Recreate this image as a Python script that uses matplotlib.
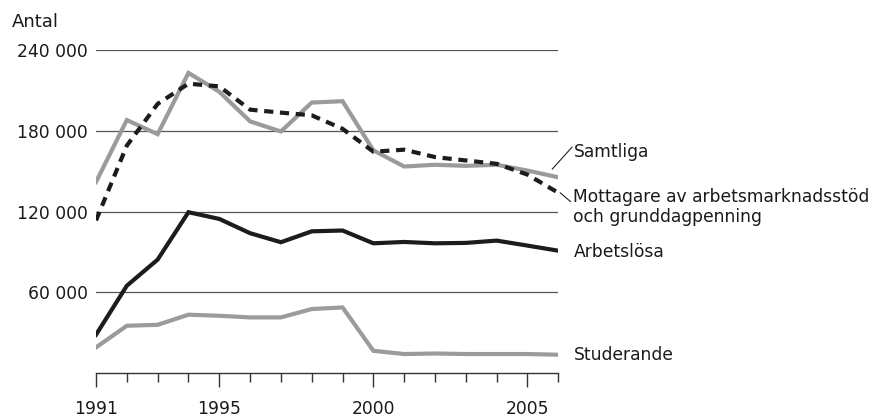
import matplotlib
matplotlib.use("Agg")
import matplotlib.pyplot as plt
from matplotlib.ticker import FixedLocator

plt.rcParams['font.family'] = ['DejaVu Sans']

years = list(range(1991, 2007))
samtliga = [142000, 188000, 177500, 223000, 209000, 187000, 179500, 201000,
            202000, 165500, 153500, 154800, 154000, 154800, 150500, 145500]
mottagare = [113500, 169000, 200000, 215000, 213000, 195700, 193500, 191500,
             181500, 164500, 166000, 160500, 158000, 155500, 147500, 134000]
arbetslosa = [28600, 65000, 84400, 119600, 114600, 104000, 97300, 105400,
              106000, 96500, 97500, 96500, 96800, 98500, 94800, 91000]
studerande = [19200, 35300, 36000, 43500, 42700, 41500, 41500, 47700,
              48900, 16700, 14300, 14700, 14300, 14300, 14300, 13800]

ytick_vals = [60000, 120000, 180000, 240000]
ytick_labels = ["60 000", "120 000", "180 000", "240 000"]
xtick_major = [1991, 1995, 2000, 2005]
xtick_labels = ["1991", "1995", "2000", "2005"]

GRAY = '#9b9b9b'
BLACK = '#1c1c1c'
TXT = '#1a1a1a'

fig = plt.figure(figsize=(8.89, 4.2), dpi=100)
ax = fig.add_axes([96/889, 1-373.3/420, (558.3-96)/889, (373.3-50)/420])

ax.set_xlim(1991, 2006)
ax.set_ylim(0, 240000)

for v in ytick_vals:
    ax.axhline(v, color='#555555', lw=0.9, zorder=1)

ax.plot(years, studerande, color=GRAY, lw=3.0, solid_joinstyle='miter', zorder=3)
ax.plot(years, arbetslosa, color=BLACK, lw=3.0, solid_joinstyle='miter', zorder=3)
ax.plot(years, samtliga, color=GRAY, lw=3.0, solid_joinstyle='miter', zorder=3)
ax.plot(years, mottagare, color=BLACK, lw=3.0, dashes=(2.2, 1.6),
        dash_capstyle='butt', zorder=4)

for s in ['top', 'right', 'left']:
    ax.spines[s].set_visible(False)
ax.spines['bottom'].set_color('#333333')
ax.spines['bottom'].set_linewidth(1.0)

fs = 12.3
ax.yaxis.set_major_locator(FixedLocator(ytick_vals))
ax.set_yticklabels(ytick_labels)
ax.tick_params(axis='y', length=0, pad=6, labelsize=fs, labelcolor=TXT)

ax.xaxis.set_major_locator(FixedLocator(xtick_major))
ax.set_xticklabels(xtick_labels)
ax.xaxis.set_minor_locator(FixedLocator(years))
ax.tick_params(axis='x', which='major', length=10, width=1.0, color='#333333',
               direction='out', pad=9, labelsize=fs, labelcolor=TXT)
ax.tick_params(axis='x', which='minor', length=6.5, width=1.0, color='#333333',
               direction='out')

fig.text(12/889, 1-26.7/420, "Antal", fontsize=13, color=TXT, ha='left', va='baseline')

# labels at line ends
ax.text(2006.49, 160800, "Samtliga", fontsize=fs, color=TXT, ha='left', va='baseline', clip_on=False)
ax.annotate('', xy=(2005.8, 151500), xytext=(2006.45, 168000), annotation_clip=False,
            arrowprops=dict(arrowstyle='-', lw=0.8, color='#222222', shrinkA=0, shrinkB=0))
ax.text(2006.49, 127400, "Mottagare av arbetsmarknadsstöd", fontsize=fs, color=TXT,
        ha='left', va='baseline', clip_on=False)
ax.text(2006.49, 112550, "och grunddagpenning", fontsize=fs, color=TXT,
        ha='left', va='baseline', clip_on=False)
ax.annotate('', xy=(2006.06, 134000), xytext=(2006.40, 127400), annotation_clip=False,
            arrowprops=dict(arrowstyle='-', lw=0.8, color='#222222', shrinkA=0, shrinkB=0))
ax.text(2006.49, 86560, "Arbetslösa", fontsize=fs, color=TXT, ha='left', va='baseline', clip_on=False)
ax.text(2006.49, 9870, "Studerande", fontsize=fs, color=TXT, ha='left', va='baseline', clip_on=False)

fig.savefig("out.png", dpi=100)
